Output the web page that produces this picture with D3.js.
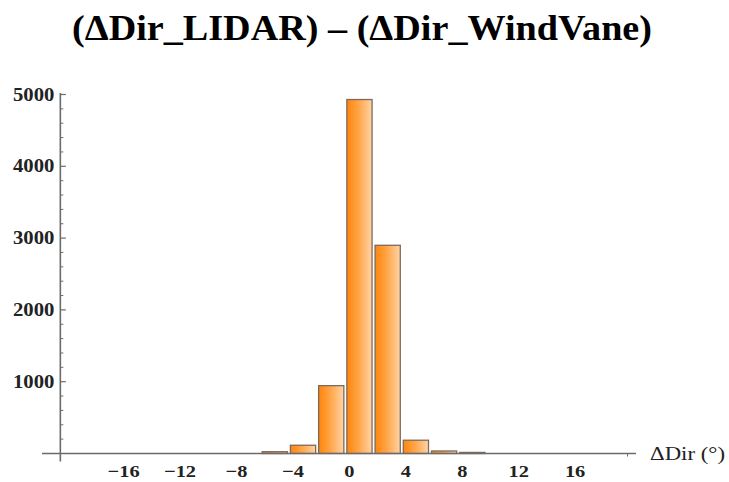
<!DOCTYPE html>
<html>
<head>
<meta charset="utf-8">
<script src="https://cdn.jsdelivr.net/npm/d3@7"></script>
<style>
  html, body { margin: 0; padding: 0; background: #fff; }
  svg { display: block; }
  text { font-family: "Liberation Serif", "Times New Roman", serif; }
</style>
</head>
<body>
<svg id="chart" width="729" height="482"></svg>
<script>
// Histogram of direction differences, 2-degree bins
const binStarts = [-6, -4, -2, 0, 2, 4, 6, 8];
const binWidth = 2;
const counts = [25, 115, 945, 4930, 2900, 185, 35, 15];

const xTickValues = [-16, -12, -8, -4, 0, 4, 8, 12, 16];
const yMajorTicks = [1000, 2000, 3000, 4000, 5000];
const titleText = "(\u0394Dir_LIDAR) \u2013 (\u0394Dir_WindVane)";
const xAxisLabel = "\u0394Dir (\u00B0)";

const svg = d3.select("#chart");

// Scales
const x = d3.scaleLinear().domain([-21.5, 20.6]).range([42, 636]);
const y = d3.scaleLinear().domain([0, 5000]).range([453.5, 94.5]);
const yAxisAt = -20.2;      // x value where the vertical axis stands
const yAxisTop = 5020;

// Gradient for the bar faces
const defs = svg.append("defs");
const grad = defs.append("linearGradient").attr("id", "barFill")
  .attr("x1", "0%").attr("x2", "100%").attr("y1", "0%").attr("y2", "0%");
grad.append("stop").attr("offset", "0%").attr("stop-color", "#ff850a");
grad.append("stop").attr("offset", "45%").attr("stop-color", "#ffa445");
grad.append("stop").attr("offset", "100%").attr("stop-color", "#ffd4a6");

// Bars
const bars = binStarts.map((b, i) => ({ x0: b, x1: b + binWidth, n: counts[i] }));
svg.append("g").selectAll("rect").data(bars).enter().append("rect")
  .attr("x", d => x(d.x0) + 1.5)
  .attr("width", d => x(d.x1) - x(d.x0) - 3)
  .attr("y", d => y(d.n))
  .attr("height", d => y(0) - y(d.n))
  .attr("fill", "url(#barFill)")
  .attr("stroke", "#7d6a5c")
  .attr("stroke-width", 1.3);

const axisColor = "#6b6b6b";

// Horizontal axis
svg.append("line")
  .attr("x1", x.range()[0]).attr("x2", x.range()[1])
  .attr("y1", y(0)).attr("y2", y(0))
  .attr("stroke", axisColor).attr("stroke-width", 1.6);

// Small tick near the right end of the horizontal axis
svg.append("line")
  .attr("x1", x(20)).attr("x2", x(20))
  .attr("y1", y(0)).attr("y2", y(0) + 3)
  .attr("stroke", axisColor).attr("stroke-width", 1);

// Horizontal tick labels (slightly wide glyphs)
svg.append("g").selectAll("text").data(xTickValues).enter().append("text")
  .attr("transform", d => `translate(${x(d) + 4},477) scale(1.2,1)`)
  .attr("text-anchor", "middle")
  .attr("font-size", 17)
  .attr("font-weight", "bold")
  .attr("fill", "#222")
  .text(d => d < 0 ? "\u2212" + Math.abs(d) : String(d));

// Horizontal axis label
svg.append("text")
  .attr("x", 650).attr("y", 460)
  .attr("font-size", 19)
  .attr("textLength", 75)
  .attr("lengthAdjust", "spacingAndGlyphs")
  .attr("fill", "#222")
  .text(xAxisLabel);

// Vertical axis
const yx = x(yAxisAt);
svg.append("line")
  .attr("x1", yx).attr("x2", yx)
  .attr("y1", y(yAxisTop)).attr("y2", y(0) + 8)
  .attr("stroke", axisColor).attr("stroke-width", 1.6);

// Minor and major ticks on the vertical axis
const minorTicks = d3.range(200, 5001, 200).filter(v => v % 1000 !== 0);
svg.append("g").selectAll("line").data(minorTicks).enter().append("line")
  .attr("x1", yx).attr("x2", yx + 3)
  .attr("y1", d => y(d)).attr("y2", d => y(d))
  .attr("stroke", axisColor).attr("stroke-width", 1);
svg.append("g").selectAll("line").data(yMajorTicks).enter().append("line")
  .attr("x1", yx).attr("x2", yx + 5.5)
  .attr("y1", d => y(d)).attr("y2", d => y(d))
  .attr("stroke", axisColor).attr("stroke-width", 1.2);

// Vertical tick labels
svg.append("g").selectAll("text").data(yMajorTicks).enter().append("text")
  .attr("transform", d => `translate(${yx - 6},${y(d) + 6}) scale(1.15,1)`)
  .attr("text-anchor", "end")
  .attr("font-size", 18)
  .attr("font-weight", "bold")
  .attr("fill", "#222")
  .text(d => String(d));

// Title
svg.append("text")
  .attr("x", 362).attr("y", 40)
  .attr("text-anchor", "middle")
  .attr("font-size", 36)
  .attr("font-weight", "bold")
  .attr("textLength", 580)
  .attr("lengthAdjust", "spacingAndGlyphs")
  .attr("fill", "#000")
  .text(titleText);
</script>
</body>
</html>
